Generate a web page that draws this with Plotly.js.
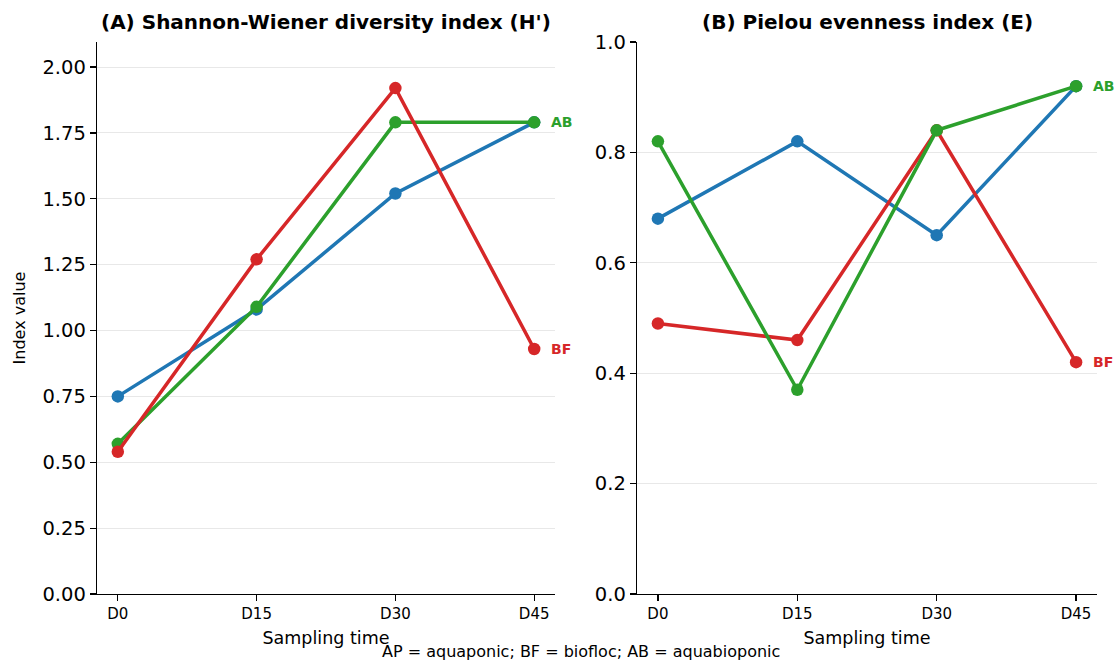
<!DOCTYPE html>
<html>
<head>
<meta charset="utf-8">
<script src="https://cdn.plot.ly/plotly-3.0.1.min.js"></script>
<style>html,body{margin:0;padding:0;background:#fff;}#chart{width:1115px;height:660px;}</style>
</head>
<body>
<div id="chart"></div>
<script>
// ---- data ----
const times = ['D0', 'D15', 'D30', 'D45'];
const groups = ['AP', 'BF', 'AB'];
const shannonAP = [0.75, 1.08, 1.52, 1.79];
const shannonBF = [0.54, 1.27, 1.92, 0.93];
const shannonAB = [0.57, 1.09, 1.79, 1.79];
const pielouAP = [0.68, 0.82, 0.65, 0.92];
const pielouBF = [0.49, 0.46, 0.84, 0.42];
const pielouAB = [0.82, 0.37, 0.84, 0.92];
const shannonTicks = [0, 0.25, 0.5, 0.75, 1.0, 1.25, 1.5, 1.75, 2.0];
const pielouTicks = [0, 0.2, 0.4, 0.6, 0.8, 1.0];
const titleA = "(A) Shannon-Wiener diversity index (H')";
const titleB = "(B) Pielou evenness index (E)";
const footnote = 'AP = aquaponic; BF = biofloc; AB = aquabioponic';

const colors = {AP: '#1f77b4', BF: '#d62728', AB: '#2ca02c'};
const FONT = 'DejaVu Sans, sans-serif';

function line(name, y, xa, ya) {
  return {
    x: times, y: y, xaxis: xa, yaxis: ya, name: name,
    type: 'scatter', mode: 'lines+markers',
    line: {color: colors[name], width: 3.5},
    marker: {color: colors[name], size: 12.5},
    showlegend: false, cliponaxis: false,
    hovertemplate: name + ': %{y}<extra></extra>'
  };
}

const data = [
  line('AP', shannonAP, 'x', 'y'),
  line('AB', shannonAB, 'x', 'y'),
  line('BF', shannonBF, 'x', 'y'),
  line('AP', pielouAP, 'x2', 'y2'),
  line('BF', pielouBF, 'x2', 'y2'),
  line('AB', pielouAB, 'x2', 'y2')
];

const W = 1115, H = 660;
const px = v => v / W, py = v => 1 - v / H;

function xaxisCfg(domain, anchor) {
  return {
    domain: domain, anchor: anchor, type: 'category',
    categoryorder: 'array', categoryarray: times,
    range: [-0.15, 3.15], showgrid: false, zeroline: false,
    showline: true, linecolor: '#000', linewidth: 1.3,
    ticks: 'outside', ticklen: 6, tickwidth: 1.2, tickcolor: '#000',
    tickfont: {family: FONT, size: 15, color: '#000'},
    title: {text: 'Sampling time', font: {family: FONT, size: 17.5, color: '#000'}, standoff: 9},
    automargin: false, fixedrange: true
  };
}
function yaxisCfg(anchor, range, ticks, fmt, title) {
  return {
    domain: [py(594), py(42)], anchor: anchor, range: range,
    tickmode: 'array', tickvals: ticks, ticktext: ticks.map(v => v.toFixed(fmt)),
    showgrid: true, gridcolor: '#e8e8e8', gridwidth: 1, zeroline: false,
    showline: true, linecolor: '#000', linewidth: 1.3,
    ticks: 'outside', ticklen: 6, tickwidth: 1.2, tickcolor: '#000',
    tickfont: {family: FONT, size: 19.5, color: '#000'},
    title: {text: title, font: {family: FONT, size: 16, color: '#000'}, standoff: 12},
    automargin: false, fixedrange: true
  };
}

const layout = {
  width: W, height: H,
  margin: {l: 0, r: 0, t: 0, b: 0},
  paper_bgcolor: '#fff', plot_bgcolor: '#fff',
  font: {family: FONT, color: '#000'},
  xaxis: xaxisCfg([px(97), px(555)], 'y'),
  yaxis: yaxisCfg('x', [0, 2.095], shannonTicks, 2, 'Index value'),
  xaxis2: xaxisCfg([px(637), px(1097)], 'y2'),
  yaxis2: yaxisCfg('x2', [0, 1.0], pielouTicks, 1, ''),
  annotations: [
    {text: '<b>' + titleA + '</b>', xref: 'paper', yref: 'paper', x: px(326), y: py(22),
     xanchor: 'center', yanchor: 'middle', showarrow: false, font: {family: FONT, size: 20, color: '#000'}},
    {text: '<b>' + titleB + '</b>', xref: 'paper', yref: 'paper', x: px(867), y: py(22),
     xanchor: 'center', yanchor: 'middle', showarrow: false, font: {family: FONT, size: 20, color: '#000'}},
    {text: footnote, xref: 'paper', yref: 'paper', x: px(581), y: py(651),
     xanchor: 'center', yanchor: 'middle', showarrow: false, font: {family: FONT, size: 16, color: '#000'}},
    {text: '<b>AB</b>', xref: 'x', yref: 'y', x: times[3], y: shannonAB[3], xanchor: 'left', yanchor: 'middle',
     xshift: 15, showarrow: false, font: {family: FONT, size: 14, color: colors.AB}},
    {text: '<b>BF</b>', xref: 'x', yref: 'y', x: times[3], y: shannonBF[3], xanchor: 'left', yanchor: 'middle',
     xshift: 15, showarrow: false, font: {family: FONT, size: 14, color: colors.BF}},
    {text: '<b>AB</b>', xref: 'x2', yref: 'y2', x: times[3], y: pielouAB[3], xanchor: 'left', yanchor: 'middle',
     xshift: 15, showarrow: false, font: {family: FONT, size: 14, color: colors.AB}},
    {text: '<b>BF</b>', xref: 'x2', yref: 'y2', x: times[3], y: pielouBF[3], xanchor: 'left', yanchor: 'middle',
     xshift: 15, showarrow: false, font: {family: FONT, size: 14, color: colors.BF}}
  ]
};

Plotly.newPlot('chart', data, layout, {displayModeBar: false, staticPlot: true});
</script>
</body>
</html>
